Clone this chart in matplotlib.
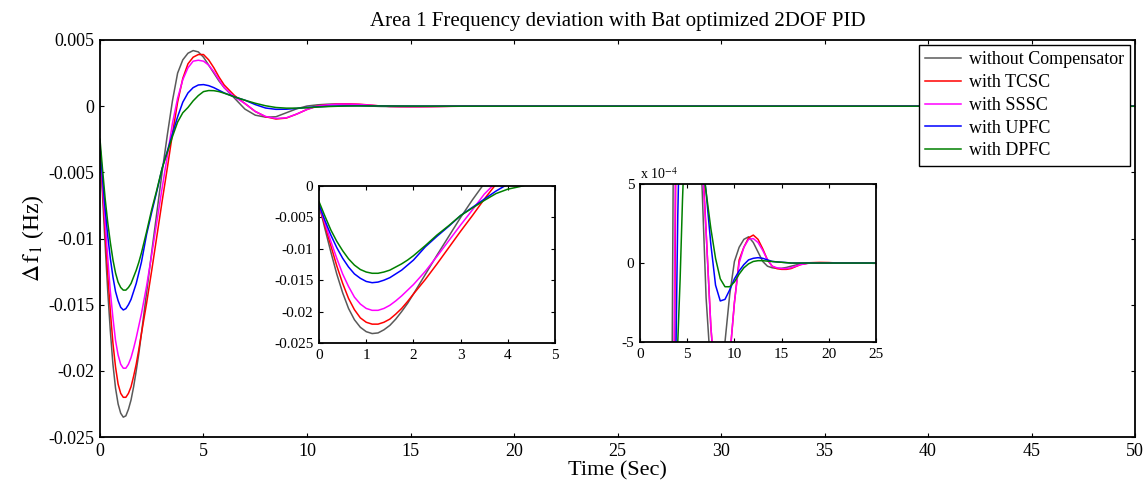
import matplotlib
matplotlib.use("Agg")
import matplotlib.pyplot as plt
from matplotlib.ticker import FuncFormatter

plt.rcParams['font.family'] = ['Liberation Serif', 'DejaVu Serif']
plt.rcParams['mathtext.fontset'] = 'stix'
plt.rcParams['axes.unicode_minus'] = False

# time samples (s)
t = [0, 0.125, 0.25, 0.375, 0.5, 0.625, 0.75, 0.875, 1.0, 1.125, 1.25, 1.375,
     1.5, 1.625, 1.75, 1.875, 2.0, 2.25, 2.5, 2.75, 3.0, 3.25,
     3.5, 3.75, 4.0, 4.25, 4.5, 4.75, 5.0, 5.25, 5.5, 5.75, 6.0, 6.5, 7.0, 7.5,
     8.0, 8.5, 9.0, 9.5, 10.0, 10.5, 11.0, 11.5, 12.0, 12.5, 13.0, 13.5, 14.0,
     14.5, 15.0, 15.5, 16.0, 17.0, 18.0, 19.0, 20.0, 21.0, 25.0, 30.0, 50.0]

no_comp = [-0.003, -0.0068, -0.0105, -0.0140, -0.0170, -0.0195, -0.0213, -0.0225,
           -0.0232, -0.0235, -0.0234, -0.0229, -0.0222, -0.0212, -0.0200, -0.0187,
           -0.0172, -0.0141, -0.0110, -0.0080, -0.0050, -0.0022, 0.0004, 0.0025,
           0.0035, 0.0040, 0.0042, 0.0041, 0.0037, 0.0031, 0.0025, 0.0019, 0.0014,
           0.0006, -0.00022, -0.00068, -0.00083, -0.0008, -0.0005, -0.0002, 0.00001,
           0.0001, 0.00015, 0.000166, 0.00013, 0.00007, 0.00001, -0.00002, -0.00003,
           -0.000034, -0.000033, -0.000028, -0.00002, -0.000005, 0.0, 0.0, 0.0, 0.0,
           0.0, 0.0, 0.0]

tcsc = [-0.003, -0.0063, -0.0095, -0.0127, -0.0155, -0.0179, -0.0197, -0.0210,
        -0.0217, -0.0220, -0.0220, -0.0217, -0.0212, -0.0204, -0.0195, -0.0184,
        -0.0172, -0.0149, -0.0124, -0.0098, -0.0072, -0.0047, -0.0021, 0.0003,
        0.0021, 0.0032, 0.0037, 0.0039, 0.0039, 0.0035, 0.0029, 0.0022, 0.0016,
        0.0008, 0.0002, -0.0004, -0.0008, -0.00097, -0.0009, -0.0006, -0.00025,
        0.00002, 0.0001, 0.00016, 0.000177, 0.00015, 0.00009, 0.00002, -0.00002,
        -0.000035, -0.00004, -0.00004, -0.000035, -0.00001, 0.000002, 0.000004,
        0.000003, 0.0, 0.0, 0.0, 0.0]

sssc = [-0.003, -0.0059, -0.0088, -0.0115, -0.0140, -0.0160, -0.0177, -0.0188,
        -0.0195, -0.0198, -0.0198, -0.0195, -0.0190, -0.0183, -0.0175, -0.0166,
        -0.0157, -0.0136, -0.0112, -0.0087, -0.0062, -0.0038, -0.0013, 0.0006,
        0.0020, 0.0029, 0.0034, 0.00347, 0.0034, 0.0031, 0.0026, 0.0020, 0.0014,
        0.0007, 0.0002, -0.0004, -0.00078, -0.00093, -0.00088, -0.0006, -0.00025,
        0.0, 0.0001, 0.00015, 0.000155, 0.00013, 0.00008, 0.00002, -0.00002,
        -0.00003, -0.000035, -0.000035, -0.00003, -0.00001, 0.0, 0.0, 0.0, 0.0,
        0.0, 0.0, 0.0]

upfc = [-0.003, -0.0055, -0.0078, -0.0098, -0.0115, -0.0129, -0.0140, -0.0147,
        -0.0152, -0.0154, -0.0153, -0.0150, -0.0146, -0.0140, -0.0134, -0.0126,
        -0.0118, -0.0097, -0.0080, -0.0064, -0.0047, -0.0034, -0.0021, -0.0008,
        0.0003, 0.0010, 0.0014, 0.0016, 0.00163, 0.00155, 0.0014, 0.0012, 0.0010,
        0.0007, 0.00045, 0.00012, -0.00014, -0.00024, -0.00023, -0.00017, -0.0001,
        -0.00005, -0.00001, 0.00002, 0.00003, 0.000034, 0.00003, 0.00002, 0.00001,
        0.000007, 0.000005, 0.000003, 0.0, 0.0, 0.0, 0.0, 0.0, 0.0, 0.0, 0.0, 0.0]

dpfc = [-0.0025, -0.0048, -0.0070, -0.0088, -0.0103, -0.0116, -0.0126, -0.0133,
        -0.0137, -0.0139, -0.0139, -0.0137, -0.0134, -0.0129, -0.0124, -0.0118,
        -0.0111, -0.0095, -0.0078, -0.0063, -0.0047, -0.0035, -0.0023, -0.0012,
        -0.0005, -0.0001, 0.0004, 0.0008, 0.0011, 0.00118, 0.00117, 0.0011, 0.00098,
        0.0007, 0.00045, 0.00022, 0.00003, -0.0001, -0.00015, -0.00015, -0.00012,
        -0.00007, -0.00003, -0.000005, 0.00001, 0.000015, 0.000015, 0.000012,
        0.00001, 0.000007, 0.000005, 0.000002, 0.0, 0.0, 0.0, 0.0, 0.0, 0.0, 0.0,
        0.0, 0.0]

labels = ['without Compensator', 'with TCSC', 'with SSSC', 'with UPFC', 'with DPFC']
colors = ['#5a5a5a', '#ff0000', '#ff00ff', '#0000ff', '#008000']
series = [no_comp, tcsc, sssc, upfc, dpfc]

fmt = FuncFormatter(lambda v, p: '%g' % round(v, 6))


def style(ax, fs):
    ax.tick_params(direction='in', top=True, right=True, length=3, width=0.8,
                   labelsize=fs, pad=4)
    for s in ax.spines.values():
        s.set_linewidth(1.3)


fig = plt.figure(figsize=(11.48, 4.83), dpi=100)

ax = fig.add_axes([0.0871, 0.0952, 0.9016, 0.822])
for y, c, lab in zip(series, colors, labels):
    ax.plot(t, y, color=c, lw=1.1, label=lab)
ax.set_xlim(0, 50)
ax.set_ylim(-0.025, 0.005)
ax.set_xticks(range(0, 51, 5))
ax.set_yticks([-0.025, -0.02, -0.015, -0.01, -0.005, 0, 0.005])
ax.yaxis.set_major_formatter(fmt)
style(ax, 13)
ax.set_title('Area 1 Frequency deviation with Bat optimized 2DOF PID', fontsize=15, pad=10)
ax.set_xlabel('Time (Sec)', fontsize=16, labelpad=1)
ax.set_ylabel(r'$\Delta\,\mathrm{f}_{1}$ (Hz)', fontsize=17, labelpad=2)
leg = ax.legend(loc='upper right', bbox_to_anchor=(0.9843, 0.9068),
                bbox_transform=fig.transFigure, fontsize=13, fancybox=False,
                framealpha=1, edgecolor='black', handlelength=2.0,
                borderpad=0.35, labelspacing=0.32, handletextpad=0.4,
                borderaxespad=0)
leg.get_frame().set_linewidth(1.0)

# inset 1: first 5 s
ax1 = fig.add_axes([0.2779, 0.2899, 0.2056, 0.325])
for y, c in zip(series, colors):
    ax1.plot(t, y, color=c, lw=1.1)
ax1.set_xlim(0, 5)
ax1.set_ylim(-0.025, 0)
ax1.set_xticks(range(0, 6))
ax1.set_yticks([-0.025, -0.02, -0.015, -0.01, -0.005, 0])
ax1.yaxis.set_major_formatter(fmt)
style(ax1, 11)

# inset 2: settling detail
ax2 = fig.add_axes([0.5575, 0.2919, 0.2056, 0.327])
for y, c in zip(series, colors):
    ax2.plot(t, y, color=c, lw=1.1)
ax2.set_xlim(0, 25)
ax2.set_ylim(-5e-4, 5e-4)
ax2.set_xticks(range(0, 26, 5))
ax2.set_yticks([-5e-4, 0, 5e-4])
ax2.yaxis.set_major_formatter(FuncFormatter(lambda v, p: '%g' % round(v * 1e4, 3)))
style(ax2, 11)
ax2.text(0.0, 1.01, r'x 10$^{-4}$', transform=ax2.transAxes, fontsize=10,
         ha='left', va='bottom')

fig.savefig('out.png', dpi=100)
